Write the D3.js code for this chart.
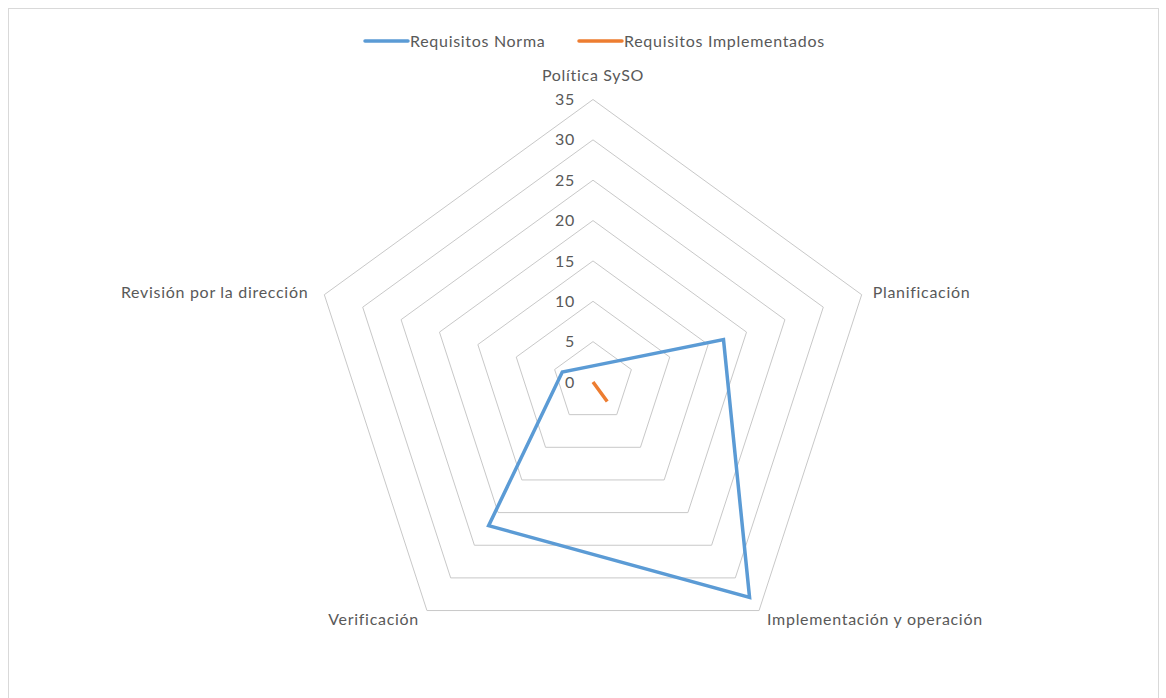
<!DOCTYPE html>
<html>
<head>
<meta charset="utf-8">
<script src="https://cdn.jsdelivr.net/npm/d3@7"></script>
<style>
  body { margin: 0; background: #fff; }
  text { font-family: Lato, "Open Sans", sans-serif; fill: #595959; letter-spacing: 0.7px; }
</style>
</head>
<body>
<svg id="chart" width="1166" height="698"></svg>
<script>
// Data
var categories = ["Política SySO", "Planificación", "Implementación y operación", "Verificación", "Revisión por la dirección"];
var requisitosNorma = [2, 17, 33, 22, 4];
var requisitosImplementados = [0, 0, 3, 0, 0];
var tickValues = [0, 5, 10, 15, 20, 25, 30, 35];
var seriesNames = ["Requisitos Norma", "Requisitos Implementados"];
var seriesColors = ["#5B9BD5", "#ED7D31"];

// SVG Variables
var svg = d3.select("#chart");
var cx = 593, cy = 382;
var r = d3.scaleLinear().domain([0, 35]).range([0, 282.5]);
var angle = d3.scaleLinear().domain([0, categories.length]).range([0, 2 * Math.PI]);

function pt(i, v) {
    var a = angle(i);
    return [cx + r(v) * Math.sin(a), cy - r(v) * Math.cos(a)];
}

// chart border
svg.append("rect")
    .attr("x", 8.5).attr("y", 8.5)
    .attr("width", 1150).attr("height", 720)
    .attr("fill", "none").attr("stroke", "#d9d9d9").attr("stroke-width", 1);

// grid rings (skip 0)
var ring = d3.line();
svg.append("g").selectAll("path").data(tickValues.filter(function(d) { return d > 0; }))
    .enter().append("path")
    .attr("d", function(t) {
        var pts = categories.map(function(c, i) { return pt(i, t); });
        return ring(pts) + "Z";
    })
    .attr("fill", "none")
    .attr("stroke", "#c8c8c8")
    .attr("stroke-width", 1);

// tick labels
svg.append("g").selectAll("text").data(tickValues).enter().append("text")
    .attr("x", cx - 18)
    .attr("y", function(t) { return cy - r(t); })
    .attr("dy", "0.35em")
    .attr("text-anchor", "end")
    .attr("font-size", "16px")
    .text(function(t) { return t; });

// category labels
var labelPos = [
    { dx: 0, dy: -24, anchor: "middle" },
    { dx: 11, dy: -2, anchor: "start" },
    { dx: 8, dy: 9, anchor: "start" },
    { dx: -8, dy: 9, anchor: "end" },
    { dx: -16, dy: -2, anchor: "end" }
];
svg.append("g").selectAll("text").data(categories).enter().append("text")
    .attr("x", function(d, i) { return pt(i, 35)[0] + labelPos[i].dx; })
    .attr("y", function(d, i) { return pt(i, 35)[1] + labelPos[i].dy; })
    .attr("dy", "0.35em")
    .attr("text-anchor", function(d, i) { return labelPos[i].anchor; })
    .attr("font-size", "16px")
    .text(function(d) { return d; });

// series
var series = [requisitosNorma, requisitosImplementados];
series.forEach(function(vals, s) {
    var pts = vals.map(function(v, i) { return pt(i, v); });
    svg.append("path")
        .attr("d", d3.line()(pts) + "Z")
        .attr("fill", "none")
        .attr("stroke", seriesColors[s])
        .attr("stroke-width", 3.5)
        .attr("stroke-linejoin", "miter");
});

// legend
var legendX = [365, 579];
seriesNames.forEach(function(name, s) {
    var g = svg.append("g").attr("transform", "translate(" + legendX[s] + ",41)");
    g.append("line").attr("x1", 0).attr("x2", 43).attr("y1", 0).attr("y2", 0)
        .attr("stroke", seriesColors[s]).attr("stroke-width", 3.5).attr("stroke-linecap", "round");
    g.append("text").attr("x", 45).attr("dy", "0.35em").attr("font-size", "16px").text(name);
});
</script>
</body>
</html>
